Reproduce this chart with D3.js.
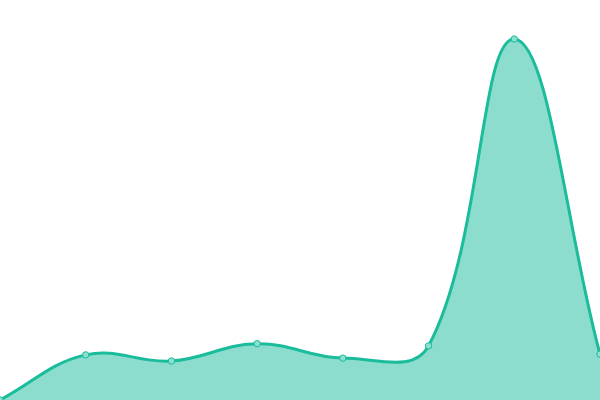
<!DOCTYPE html>
<html>
<head>
<meta charset="utf-8">
<script src="https://cdn.jsdelivr.net/npm/d3@7"></script>
<style>
  html, body { margin: 0; padding: 0; background: #fff; overflow: hidden; }
</style>
</head>
<body>
<div id="chart"></div>
<script>
// data
const labels = ["1", "2", "3", "4", "5", "6", "7", "8"];
const values = [0, 12.5, 10.8, 15.6, 11.6, 15.0, 100, 12.7];

const width = 600;
const height = 400;
const tension = 0.4;

const svg = d3.select("#chart").append("svg")
  .attr("width", width)
  .attr("height", height);

const x = d3.scalePoint()
  .domain(labels)
  .range([0, width]);

const y = d3.scaleLinear()
  .domain([0, 100])
  .range([400, 39]);

const pts = labels.map((l, i) => [x(l), y(values[i])]);

// spline with distance weighted control points
function splinePath(p, ctx) {
  const ctrl = p.map((cur, i) => {
    const prev = p[i - 1] || cur;
    const next = p[i + 1] || cur;
    const d01 = Math.hypot(cur[0] - prev[0], cur[1] - prev[1]);
    const d12 = Math.hypot(next[0] - cur[0], next[1] - cur[1]);
    let s01 = d01 / (d01 + d12) || 0;
    let s12 = d12 / (d01 + d12) || 0;
    const fa = tension * s01, fb = tension * s12;
    return {
      prev: [cur[0] - fa * (next[0] - prev[0]), cur[1] - fa * (next[1] - prev[1])],
      next: [cur[0] + fb * (next[0] - prev[0]), cur[1] + fb * (next[1] - prev[1])]
    };
  });
  ctx.moveTo(p[0][0], p[0][1]);
  for (let i = 1; i < p.length; i++) {
    const c1 = ctrl[i - 1].next, c2 = ctrl[i].prev;
    ctx.bezierCurveTo(c1[0], c1[1], c2[0], c2[1], p[i][0], p[i][1]);
  }
  return ctx;
}

// filled area
const areaPath = splinePath(pts, d3.path());
areaPath.lineTo(pts[pts.length - 1][0], y(0));
areaPath.lineTo(pts[0][0], y(0));
areaPath.closePath();

svg.append("path")
  .attr("fill", "#1abc9c")
  .attr("fill-opacity", 0.5)
  .attr("d", areaPath.toString());

// line on top
svg.append("path")
  .attr("fill", "none")
  .attr("stroke", "#1abc9c")
  .attr("stroke-width", 3)
  .attr("d", splinePath(pts, d3.path()).toString());

// points
svg.selectAll("circle.pt")
  .data(pts)
  .join("circle")
  .attr("class", "pt")
  .attr("cx", d => d[0])
  .attr("cy", d => d[1])
  .attr("r", 3.2)
  .attr("fill", "#8be0cf")
  .attr("stroke", "#1abc9c")
  .attr("stroke-width", 1);
</script>
</body>
</html>
